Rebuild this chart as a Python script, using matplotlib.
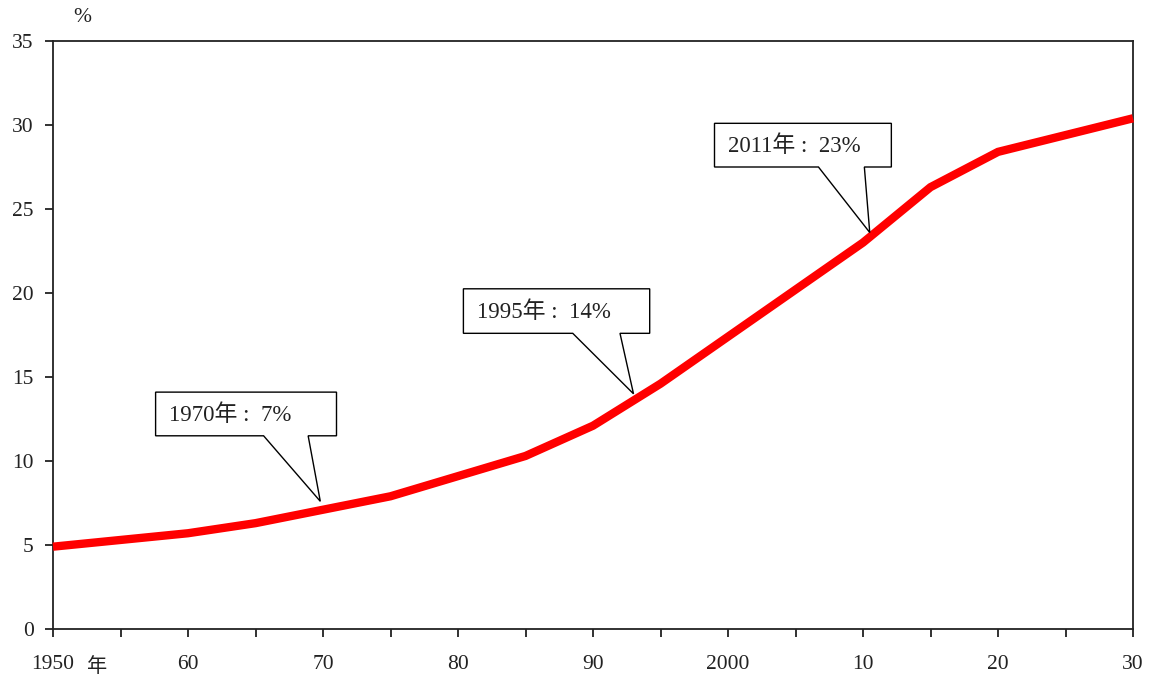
import matplotlib
matplotlib.use("Agg")
import matplotlib.pyplot as plt
from matplotlib.patches import Polygon

# Share of population aged 65 and over (%)
years = [1950, 1955, 1960, 1965, 1970, 1975, 1980, 1985, 1990, 1995,
         2000, 2005, 2010, 2015, 2020, 2025, 2030]
ratio = [4.9, 5.3, 5.7, 6.3, 7.1, 7.9, 9.1, 10.3, 12.1, 14.6,
         17.4, 20.2, 23.0, 26.3, 28.4, 29.4, 30.4]

xtick_pos = [1950, 1960, 1970, 1980, 1990, 2000, 2010, 2020, 2030]
xtick_labels = ["1950", "60", "70", "80", "90", "2000", "10", "20", "30"]
yticks = [0, 5, 10, 15, 20, 25, 30, 35]

callout_texts = ["1970年 :  7%", "1995年 :  14%", "2011年 :  23%"]

FONT = ["Liberation Serif", "Noto Sans CJK JP", "DejaVu Serif"]
plt.rcParams["font.family"] = FONT
FS = 15.5
INK = "#222222"

fig = plt.figure(figsize=(11.55, 6.77), dpi=100)
ax = fig.add_axes([53 / 1155, 48 / 677, 1080 / 1155, 588 / 677])

ax.plot(years, ratio, color="#ff0000", lw=6, solid_capstyle="butt",
        solid_joinstyle="miter", zorder=3, clip_on=False)

ax.set_xlim(1950, 2030)
ax.set_ylim(0, 35)
all_x = list(range(1950, 2031, 5))
ax.set_xticks(all_x)
ax.set_xticklabels([xtick_labels[xtick_pos.index(y)] if y in xtick_pos else ""
                    for y in all_x])
ax.set_yticks(yticks)
ax.set_yticklabels([str(v) for v in yticks])

for s in ax.spines.values():
    s.set_linewidth(1.3)
    s.set_color(INK)
ax.tick_params(direction="out", length=6, width=1.3, color=INK,
               labelsize=FS, labelcolor=INK)
ax.tick_params(axis="x", pad=12.5)
ax.tick_params(axis="y", pad=8)

ax.annotate("%", xy=(0, 1), xycoords="axes fraction", xytext=(29, 23),
            textcoords="offset pixels", fontsize=FS, ha="center",
            va="center", color=INK)
ax.annotate("年", xy=(0, 0), xycoords="axes fraction", xytext=(44, -38),
            textcoords="offset pixels", fontsize=FS - 1, ha="center",
            va="center", color=INK)

# Callout boxes: (box x0, x1, y0, y1, wedge base x0, x1, tip x, tip y)
callouts = [
    (1957.6, 1971.0, 11.5, 14.1, 1965.6, 1968.9, 1969.8, 7.6),
    (1980.4, 1994.2, 17.6, 20.25, 1988.5, 1992.0, 1993.0, 14.0),
    (1999.0, 2012.1, 27.5, 30.1, 2006.7, 2010.1, 2010.5, 23.6),
]
for text, (x0, x1, y0, y1, w0, w1, tx, ty) in zip(callout_texts, callouts):
    pts = [(x0, y0), (w0, y0), (tx, ty), (w1, y0), (x1, y0), (x1, y1), (x0, y1)]
    ax.add_patch(Polygon(pts, closed=True, facecolor="white",
                         edgecolor="black", lw=1.0, zorder=4))
    ax.text(x0 + 1.0, (y0 + y1) / 2 - 0.05, text, fontsize=16.5, ha="left",
            va="center", color=INK, zorder=5)

fig.savefig("out.png", dpi=100, facecolor="white")
